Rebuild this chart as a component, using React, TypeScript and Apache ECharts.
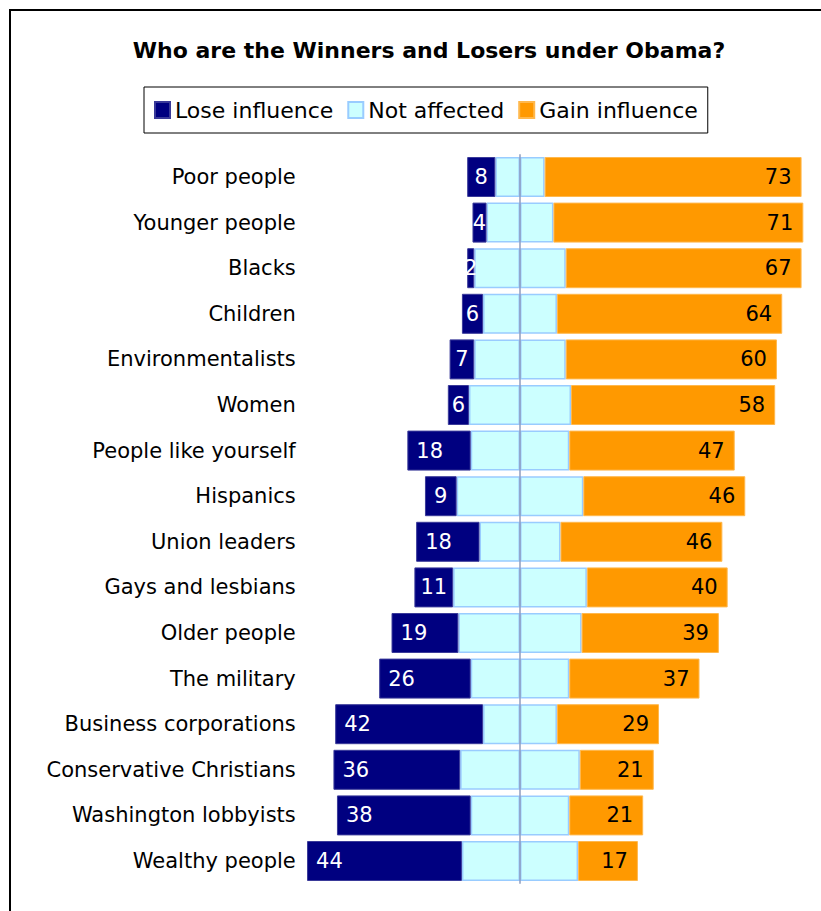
import React, { useEffect, useRef } from "react";
import * as echarts from "echarts";

const categories = [
  "Poor people",
  "Younger people",
  "Blacks",
  "Children",
  "Environmentalists",
  "Women",
  "People like yourself",
  "Hispanics",
  "Union leaders",
  "Gays and lesbians",
  "Older people",
  "The military",
  "Business corporations",
  "Conservative Christians",
  "Washington lobbyists",
  "Wealthy people",
];
const loseInfluence = [8, 4, 2, 6, 7, 6, 18, 9, 18, 11, 19, 26, 42, 36, 38, 44];
const notAffected = [14, 19, 26, 21, 26, 29, 28, 36, 23, 38, 35, 28, 21, 34, 28, 33];
const gainInfluence = [73, 71, 67, 64, 60, 58, 47, 46, 46, 40, 39, 37, 29, 21, 21, 17];

const FONT = "DejaVu Sans";

export default function App() {
  const ref = useRef<HTMLDivElement>(null);
  useEffect(() => {
    if (!ref.current) return;
    const chart = echarts.init(ref.current, undefined, { renderer: "svg" });
    const naItem = { color: "#ccffff", borderColor: "#99ccff", borderWidth: 1.5 };
    chart.setOption({
      animation: false,
      backgroundColor: "#ffffff",
      title: {
        text: "Who are the Winners and Losers under Obama?",
        left: 424,
        top: 34,
        textAlign: "center",
        textStyle: { fontFamily: FONT, fontSize: 22, fontWeight: "bold", color: "#000" },
      },
      legend: {
        data: ["Lose influence", "Not affected", "Gain influence"],
        left: 144,
        top: 87,
        itemWidth: 15,
        itemHeight: 16,
        itemGap: 14,
        padding: [12, 10],
        borderColor: "#000",
        borderWidth: 1,
        icon: "rect",
        selectedMode: false,
        textStyle: { fontFamily: FONT, fontSize: 22, color: "#000" },
      },
      graphic: [
        {
          type: "rect",
          shape: { x: 10, y: 10, width: 830, height: 930 },
          style: { fill: "none", stroke: "#000", lineWidth: 2 },
          silent: true,
          z: 100,
        },
      ],
      grid: { left: 301.76, right: 5.34, top: 154.2, bottom: 27.2, containLabel: false },
      xAxis: {
        type: "value",
        min: -62,
        max: 84,
        show: false,
        splitLine: { show: false },
      },
      yAxis: {
        type: "category",
        data: categories,
        inverse: true,
        axisLine: { show: false, onZero: false },
        axisTick: { show: false },
        axisLabel: { margin: 6, fontFamily: FONT, fontSize: 21, color: "#000" },
      },
      series: [
        {
          name: "Not affected",
          type: "bar",
          stack: "total",
          barWidth: 40,
          data: notAffected.map((v) => -v / 2),
          itemStyle: naItem,
          label: { show: false },
        },
        {
          name: "Not affected",
          type: "bar",
          stack: "total",
          barWidth: 40,
          data: notAffected.map((v) => v / 2),
          itemStyle: naItem,
          label: { show: false },
          markLine: {
            silent: true,
            symbol: ["none", "none"],
            label: { show: false },
            lineStyle: { color: "#8e9dbf", width: 1.5, type: "solid" },
            data: [{ xAxis: 0 }],
          },
        },
        {
          name: "Lose influence",
          type: "bar",
          stack: "total",
          barWidth: 40,
          data: loseInfluence.map((v) =>
            v < 15
              ? { value: -v, label: { position: "inside" } }
              : { value: -v }
          ),
          itemStyle: { color: "#000080", borderColor: "#3a3a99", borderWidth: 1 },
          label: {
            show: true,
            position: "insideLeft",
            distance: 9,
            color: "#ffffff",
            fontFamily: FONT,
            fontSize: 21,
            formatter: (p: any) => String(loseInfluence[p.dataIndex]),
          },
        },
        {
          name: "Gain influence",
          type: "bar",
          stack: "total",
          barWidth: 40,
          data: gainInfluence,
          itemStyle: { color: "#ff9900", borderColor: "#ffb84d", borderWidth: 1 },
          label: {
            show: true,
            position: "insideRight",
            distance: 10,
            color: "#000000",
            fontFamily: FONT,
            fontSize: 21,
            formatter: (p: any) => String(gainInfluence[p.dataIndex]),
          },
        },
      ],
    });
    return () => chart.dispose();
  }, []);
  return (
    <div
      ref={ref}
      style={{ position: "fixed", left: 0, top: 0, width: 821, height: 911, background: "#fff" }}
    />
  );
}
